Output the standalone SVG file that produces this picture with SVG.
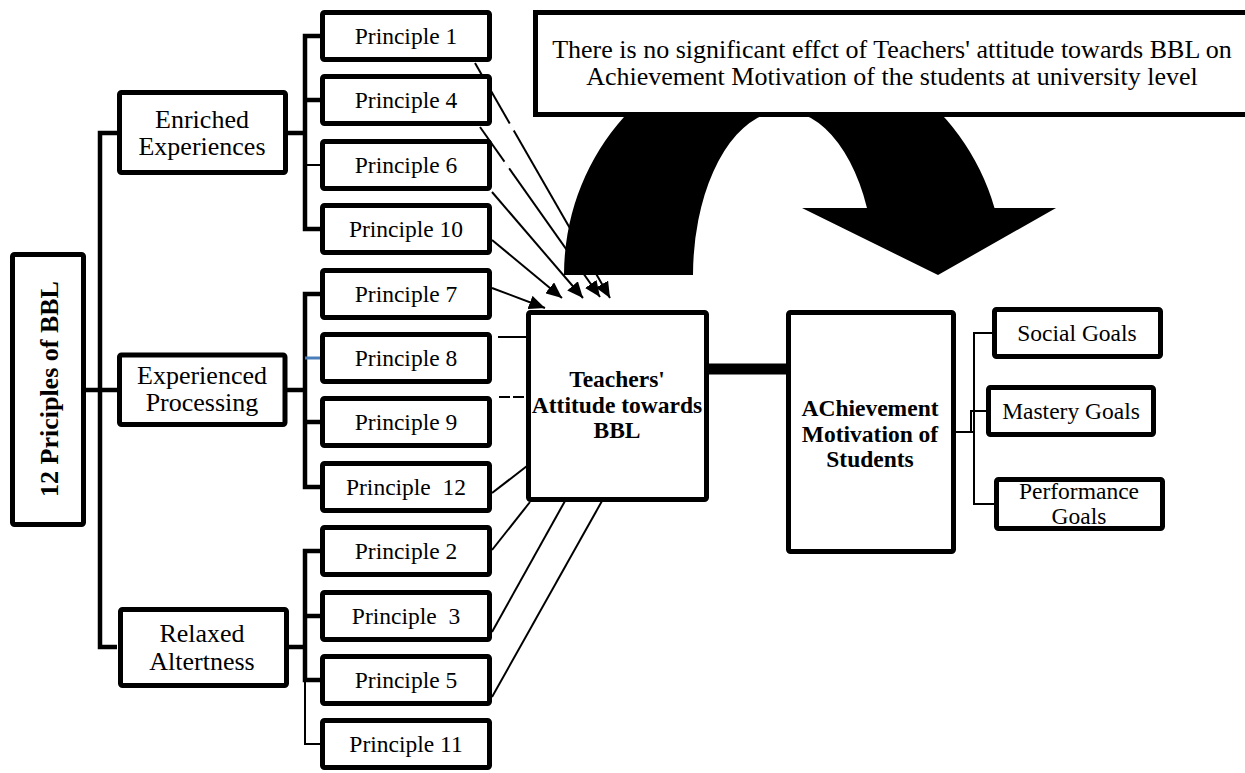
<svg xmlns="http://www.w3.org/2000/svg" width="1245" height="773" viewBox="0 0 1245 773">
<style>
text{font-family:"Liberation Serif","Times New Roman",serif;fill:#000;text-anchor:middle}
.b{fill:#fff;stroke:#000;stroke-width:5}
.pt{font-size:23.5px;white-space:pre}
.st{font-size:26px}
.bt{font-size:23.5px;font-weight:bold}
.tk{stroke:#000;stroke-width:4.5;fill:none}
.tn{stroke:#000;stroke-width:2;fill:none}
.ar{stroke:#000;stroke-width:2;fill:none;marker-end:url(#ah)}
.gap{stroke:#fff;stroke-width:3}
</style>
<defs>
<marker id="ah" markerUnits="userSpaceOnUse" markerWidth="16" markerHeight="14" refX="16" refY="7" orient="auto">
<path d="M0,0 L16,7 L0,14 z" fill="#000"/>
</marker>
</defs>
<rect width="1245" height="773" fill="#fff"/>
<g id="connectors">
<path id="big-arrow" d="M564,275 A220,230 0 0 1 994.5,208 L1056,208 L938,275 L802,208 L867,208 A91,165 0 0 0 693,275 Z" fill="#000"/>
<!-- tree -->
<polyline class="tk" points="86,390 117,390"/>
<polyline class="tk" points="117,133 100,133 100,647 117,647"/>
<polyline class="tk" points="288,133 305,133"/>
<polyline class="tk" points="320,36 305,36 305,229 320,229"/>
<line class="tk" x1="305" y1="100" x2="320" y2="100"/>
<line class="tn" x1="305" y1="165" x2="320" y2="165"/>
<polyline class="tk" points="287,390 305,390"/>
<polyline class="tk" points="320,294 305,294 305,487 320,487"/>
<line x1="305" y1="358" x2="320" y2="358" stroke="#4a7ebb" stroke-width="3"/>
<line class="tk" x1="305" y1="422" x2="320" y2="422"/>
<polyline class="tk" points="288,647 305,647"/>
<polyline class="tk" points="320,551 305,551 305,680 320,680"/>
<line class="tk" x1="305" y1="616" x2="320" y2="616"/>
<polyline class="tn" points="305,680 305,744 320,744"/>
<!-- arrows to Teachers' box -->
<line class="ar" x1="475" y1="63" x2="610" y2="298"/>
<line class="ar" x1="480" y1="127" x2="600" y2="297"/>
<line class="ar" x1="492" y1="192" x2="583" y2="298"/>
<line class="ar" x1="492" y1="240" x2="562" y2="298"/>
<line class="ar" x1="492" y1="288" x2="545" y2="308"/>
<line class="gap" x1="509.8" y1="123.5" x2="513.8" y2="130.5"/>
<line class="gap" x1="504.5" y1="161.7" x2="509.1" y2="168.3"/>
<!-- plain lines -->
<line class="tn" x1="498" y1="337" x2="526" y2="337"/>
<line class="tn" x1="499" y1="397" x2="526" y2="397" stroke-dasharray="11 3"/>
<line class="tn" x1="492" y1="493" x2="527" y2="466"/>
<line class="tn" x1="492" y1="550" x2="530" y2="502"/>
<line class="tn" x1="492" y1="632" x2="565" y2="501"/>
<line class="tn" x1="492" y1="697" x2="602" y2="501"/>
<!-- Teachers to Achievement -->
<line x1="708" y1="369" x2="788" y2="369" stroke="#000" stroke-width="11"/>
<!-- Achievement to goals -->
<polyline class="tn" points="956,432 975,432"/>
<polyline class="tn" points="992,333 974,333 974,504 994,504"/>
<polyline class="tn" points="986,411 971,411 971,432"/>
</g>
<g id="hypothesis">
<rect class="b" x="535.5" y="12.5" width="720" height="102"/>
<text x="892" y="58" class="st">There is no significant effct of Teachers' attitude towards BBL on</text>
<text x="892" y="85" class="st">Achievement Motivation of the students at university level</text>
</g>
<g id="bbl">
<rect class="b" x="12.5" y="254.5" width="71" height="270" rx="2"/>
<text transform="translate(58,389) rotate(-90)" style="font-size:26px;font-weight:bold">12 Priciples of BBL</text>
</g>
<g id="enriched">
<rect class="b" x="119.5" y="92.5" width="166" height="80" rx="2"/>
<text x="202" y="128" class="st">Enriched</text>
<text x="202" y="155" class="st">Experiences</text>
</g>
<g id="experienced">
<rect class="b" x="119.5" y="355" width="165.5" height="69.5" rx="2"/>
<text x="202" y="384" class="st">Experienced</text>
<text x="202" y="411" class="st">Processing</text>
</g>
<g id="relaxed">
<rect class="b" x="120.5" y="609.5" width="166" height="76" rx="2"/>
<text x="202" y="642" class="st">Relaxed</text>
<text x="202" y="670" class="st">Altertness</text>
</g>
<g id="p1"><rect class="b" x="322.5" y="12.5" width="167" height="47" rx="2"/><text class="pt" x="406" y="44">Principle 1</text></g>
<g id="p4"><rect class="b" x="322.5" y="76.5" width="167" height="47" rx="2"/><text class="pt" x="406" y="108">Principle 4</text></g>
<g id="p6"><rect class="b" x="322.5" y="141.5" width="167" height="47" rx="2"/><text class="pt" x="406" y="173">Principle 6</text></g>
<g id="p10"><rect class="b" x="322.5" y="205.5" width="167" height="47" rx="2"/><text class="pt" x="406" y="237">Principle 10</text></g>
<g id="p7"><rect class="b" x="322.5" y="270.5" width="167" height="47" rx="2"/><text class="pt" x="406" y="302">Principle 7</text></g>
<g id="p8"><rect class="b" x="322.5" y="334.5" width="167" height="47" rx="2"/><text class="pt" x="406" y="366">Principle 8</text></g>
<g id="p9"><rect class="b" x="322.5" y="398.5" width="167" height="47" rx="2"/><text class="pt" x="406" y="430">Principle 9</text></g>
<g id="p12"><rect class="b" x="322.5" y="463.5" width="167" height="47" rx="2"/><text class="pt" x="406" y="495">Principle  12</text></g>
<g id="p2"><rect class="b" x="322.5" y="527.5" width="167" height="47" rx="2"/><text class="pt" x="406" y="559">Principle 2</text></g>
<g id="p3"><rect class="b" x="322.5" y="592.5" width="167" height="47" rx="2"/><text class="pt" x="406" y="624">Principle  3</text></g>
<g id="p5"><rect class="b" x="322.5" y="656.5" width="167" height="47" rx="2"/><text class="pt" x="406" y="688">Principle 5</text></g>
<g id="p11"><rect class="b" x="322.5" y="720.5" width="167" height="47" rx="2"/><text class="pt" x="406" y="752">Principle 11</text></g>
<g id="teachers">
<rect class="b" x="528.5" y="312.5" width="178" height="187" rx="2"/>
<text x="617" y="387" class="bt">Teachers'</text>
<text x="617" y="413" class="bt">Attitude towards</text>
<text x="617" y="438" class="bt">BBL</text>
</g>
<g id="achievement">
<rect class="b" x="788.5" y="312.5" width="165" height="239" rx="2"/>
<text x="870" y="416" class="bt">AChievement</text>
<text x="870" y="442" class="bt">Motivation of</text>
<text x="870" y="467" class="bt">Students</text>
</g>
<g id="social"><rect class="b" x="994.5" y="309.5" width="166" height="47" rx="2"/><text class="pt" x="1077" y="341">Social Goals</text></g>
<g id="mastery"><rect class="b" x="988.5" y="387.5" width="165" height="47" rx="2"/><text class="pt" x="1071" y="419">Mastery Goals</text></g>
<g id="performance"><rect class="b" x="996.5" y="479.5" width="166" height="49" rx="2"/><text class="pt" x="1079" y="499">Performance</text><text class="pt" x="1079" y="524">Goals</text></g>
</svg>
